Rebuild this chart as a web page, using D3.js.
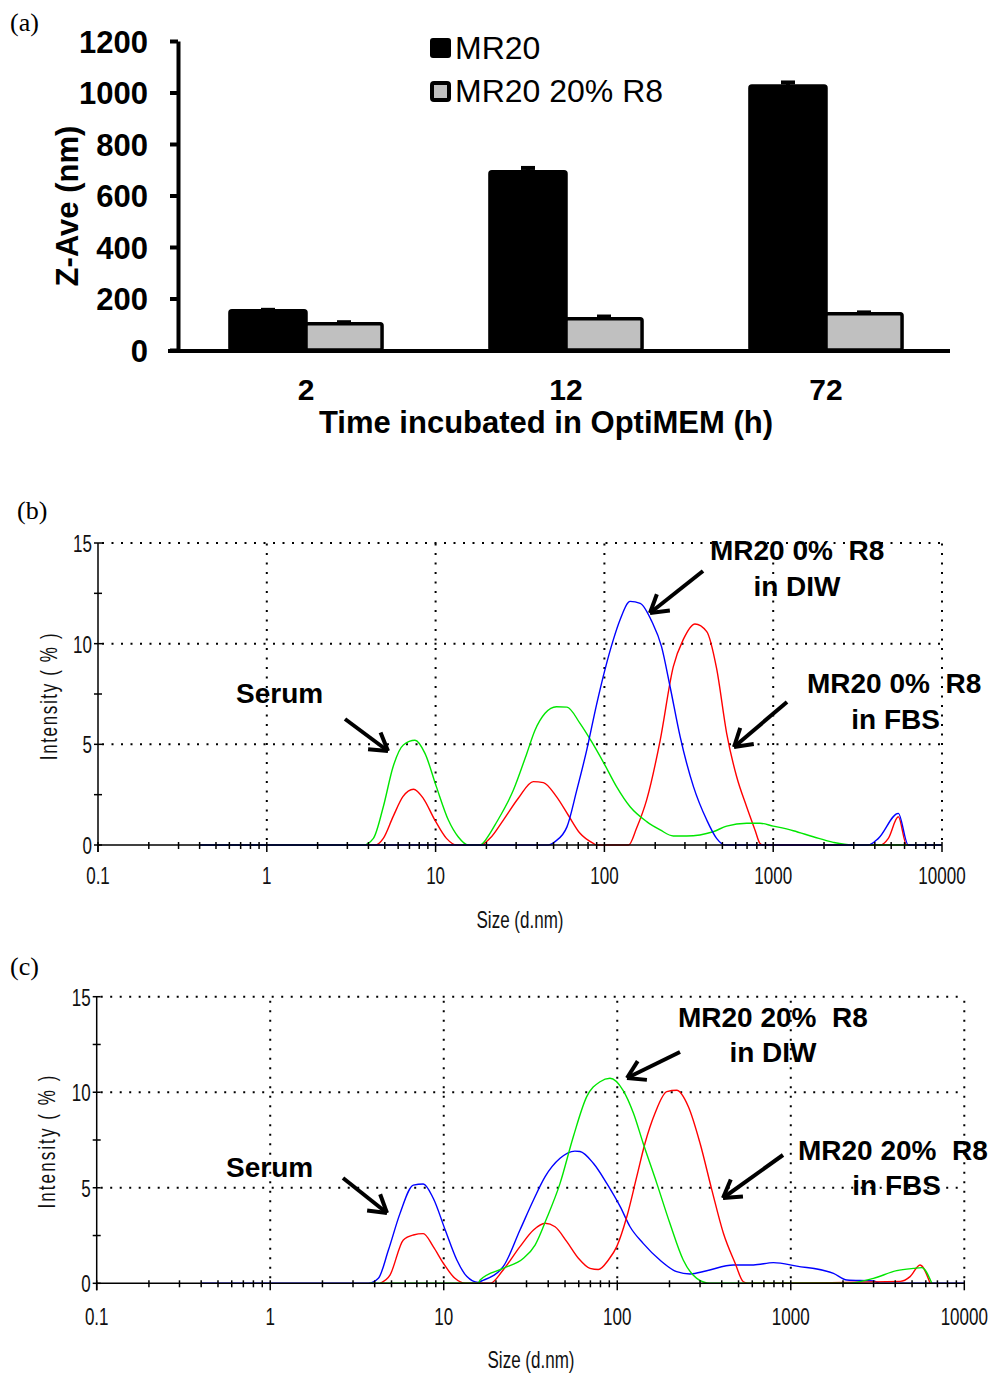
<!DOCTYPE html>
<meta charset="utf-8">
<head>
  <meta charset="UTF-8">
  <title>Z-Ave and size distributions</title>
  <style>
    body { margin: 0; background: #fff; }
    .bold { font-family: "Liberation Sans", Arial, sans-serif; font-weight: bold; }
    .narrow { font-family: "Liberation Sans", Arial, sans-serif; fill: #111; }
    .serif { font-family: "Liberation Serif", "Times New Roman", serif; }
  </style>
</head>
<body>
<script src="https://d3js.org/d3.v7.min.js"></script>
<div id="chart"></div>
<script>

// ---- panel (a) data
var hours = ["2", "12", "72"];
var seriesNames = ["MR20", "MR20 20% R8"];
var zaveMR20 = [152, 692, 1025];
var errMR20 = [4, 15, 14];
var zaveR8 = [102, 121, 141];
var errR8 = [6, 9, 5];
var zaveTicks = [0, 200, 400, 600, 800, 1000, 1200];

// ---- panels (b) and (c): [size d.nm, intensity %]
var sizeTicks = [0.1, 1, 10, 100, 1000, 10000];
var intensityTicks = [0, 5, 10, 15];

var bBlue = [[0.4,0],[46.5,0],[51,0.17],[60,0.9],[68.5,2.7],[78.5,4.7],[90,7.0],[100.7,8.7],[113,10.2],[124,11.2],
  [142,12.1],[163,12.0],[191,11.1],[218,9.85],[245,7.86],[281,5.38],[337,2.9],[404,1.24],[462,0.33],[518,0],
  [3660,0],[4200,0.33],[5510,1.57],[6310,0],[10000,0]];
var bRed = [[0.4,0],[4.38,0],[4.9,0.33],[5.6,1.41],[6.4,2.4],[7.4,2.77],[8.45,2.32],[9.9,1.24],[11.6,0.33],[13.3,0],
  [18.5,0],[21,0.33],[25.2,1.24],[30.9,2.32],[37.9,3.15],[43.5,3.1],[52,2.4],[61,1.49],[71.7,0.58],[86,0.08],[90,0],
  [139,0],[155,0.83],[178,2.24],[214,5.2],[256,8.86],[293,10.2],[344,10.98],[404,10.6],[462,8.77],[530,5.55],
  [607,3.4],[696,1.9],[780,0.75],[835,0.08],[870,0],[4300,0],[4810,0.33],[5510,1.4],[6170,0],[10000,0]];
var bGreen = [[0.4,0],[3.73,0],[4.28,0.33],[4.9,1.9],[5.6,3.89],[6.44,4.97],[7.55,5.2],[8.65,4.55],[10.1,2.9],
  [11.9,1.24],[13.6,0.41],[15.6,0],[18.3,0],[21,0.58],[22.5,1.0],[28.9,2.73],[34.7,4.55],[38.8,5.7],[44.5,6.54],
  [52,6.87],[60,6.85],[71.7,6.04],[84,5.13],[100.7,3.97],[118,2.9],[142,1.9],[178,1.16],[214,0.75],[256,0.45],
  [307,0.45],[441,0.66],[530,0.94],[696,1.08],[835,1.08],[1000,0.94],[1315,0.71],[1727,0.41],[2270,0.13],
  [2920,0],[10000,0]];

var cBlue = [[0.4,0],[3.68,0],[4.2,0.26],[4.8,1.74],[5.6,3.66],[6.68,5.14],[7.62,5.2],[8.7,4.45],[10.2,2.79],
  [11.9,1.22],[13.6,0.35],[15.8,0.05],[16.5,0.12],[22,0.87],[27.5,2.79],[32.9,4.36],[38.4,5.58],[46.8,6.54],
  [57,6.92],[61,6.9],[72.8,6.28],[87,5.23],[104,4.01],[118.5,2.96],[141,2.09],[176,1.22],[220,0.61],[263,0.49],
  [328,0.66],[467,0.96],[610,0.96],[794,1.08],[1083,0.9],[1762,0.52],[2104,0.17],[2995,0.12],[3270,0],[10000,0]];
var cRed = [[4.3,0],[4.9,0.43],[5.85,2.27],[6.68,2.53],[7.62,2.6],[8.7,1.92],[9.95,1.05],[11.6,0.26],[13.3,0],
  [18.5,0],[22,0.7],[27.5,1.92],[32.9,2.79],[38.4,3.14],[43.8,2.96],[51.2,2.18],[59.7,1.31],[69.7,0.78],
  [77.8,0.72],[88.9,1.22],[99.3,1.92],[113.5,3.48],[129.5,5.58],[144.5,7.33],[165,8.9],[193,10.03],[220,10.1],
  [257,9.24],[300,7.33],[351,4.88],[409,2.62],[478,1.05],[533,0.08],[570,0],[4270,0.1],[4870,0.35],
  [5560,0.96],[6350,0]];
var cGreen = [[3.75,0],[15.8,0],[16.2,0.17],[22,0.78],[28.8,1.31],[33.6,2.0],[39.2,3.4],[46.8,5.23],[55.8,7.67],
  [66.7,9.77],[79.6,10.55],[90.8,10.73],[108,10.1],[124,8.9],[141,7.33],[169,5.23],[201,3.14],[240,1.22],
  [287,0.26],[343,0],[2104,0],[2995,0.26],[4080,0.66],[5090,0.78],[5690,0.82],[6500,0]];

var NARROW = 0.74;

var svg = d3.select("#chart").append("svg")
    .attr("width", 992)
    .attr("height", 1378);

function arrow(g, x1, y1, x2, y2) {
  var a = Math.atan2(y2 - y1, x2 - x1), L = 20;
  g.append("line").attr("x1", x1).attr("y1", y1).attr("x2", x2).attr("y2", y2);
  [-0.55, 0.55].forEach(function(o) {
    g.append("line").attr("x1", x2).attr("y1", y2)
      .attr("x2", x2 - L * Math.cos(a + o)).attr("y2", y2 - L * Math.sin(a + o));
  });
}

// ================= panel (a)
var gA = svg.append("g");

gA.append("text").attr("class", "serif").attr("x", 10).attr("y", 31)
  .style("font-size", "26px").text("(a)");

var x0 = d3.scaleBand().domain(hours).range([176, 956]).paddingInner(0.415).paddingOuter(0.2075);
var x1 = d3.scaleBand().domain(seriesNames).range([0, x0.bandwidth()]);
var yA = d3.scaleLinear().domain([0, 1200]).range([350, 41]);

var barData = [];
hours.forEach(function(h, i) {
  barData.push({h: h, s: seriesNames[0], v: zaveMR20[i], e: errMR20[i], fill: "#000"});
  barData.push({h: h, s: seriesNames[1], v: zaveR8[i], e: errR8[i], fill: "#c0c0c0"});
});

// error bars (behind bars)
var eb = gA.append("g").attr("stroke", "#000").attr("stroke-width", 4);
barData.forEach(function(d) {
  var cx = x0(d.h) + x1(d.s) + x1.bandwidth() / 2;
  eb.append("line").attr("x1", cx).attr("x2", cx).attr("y1", yA(d.v)).attr("y2", yA(d.v + d.e));
  eb.append("line").attr("x1", cx - 7).attr("x2", cx + 7).attr("y1", yA(d.v + d.e)).attr("y2", yA(d.v + d.e));
});

gA.append("g").selectAll("rect").data(barData).join("rect")
  .attr("x", function(d) { return x0(d.h) + x1(d.s); })
  .attr("y", function(d) { return yA(d.v); })
  .attr("width", x1.bandwidth())
  .attr("height", function(d) { return yA(0) - yA(d.v); })
  .attr("rx", 2)
  .attr("fill", function(d) { return d.fill; })
  .attr("stroke", "#000")
  .attr("stroke-width", 3.5);

var yAxisA = gA.append("g").attr("transform", "translate(178,0)")
  .call(d3.axisLeft(yA).tickValues(zaveTicks).tickFormat(d3.format("d"))
    .tickSize(8).tickSizeOuter(0).tickPadding(22));
yAxisA.select(".domain").attr("stroke-width", 4);
yAxisA.selectAll(".tick line").attr("stroke-width", 4);
yAxisA.selectAll(".tick text").attr("class", "bold").style("font-size", "31px").attr("dy", "0.36em").attr("fill", "#000");

// x axis line
gA.append("line").attr("x1", 168).attr("x2", 950).attr("y1", yA(0) + 1).attr("y2", yA(0) + 1)
  .attr("stroke", "#000").attr("stroke-width", 4);
gA.append("g").selectAll("text").data(hours).join("text")
  .attr("class", "bold").attr("text-anchor", "middle")
  .attr("x", function(d) { return x0(d) + x0.bandwidth() / 2; })
  .attr("y", 400).style("font-size", "30px").text(function(d) { return d; });

gA.append("text").attr("class", "bold").attr("text-anchor", "middle")
  .attr("x", 546).attr("y", 433).style("font-size", "31px")
  .text("Time incubated in OptiMEM (h)");
gA.append("text").attr("class", "bold").attr("text-anchor", "middle")
  .attr("transform", "translate(78,206) rotate(-90)").style("font-size", "31px")
  .text("Z-Ave (nm)");

// legend
var leg = gA.append("g");
leg.append("rect").attr("x", 430).attr("y", 38).attr("width", 21).attr("height", 20).attr("rx", 3).attr("fill", "#000");
leg.append("rect").attr("x", 432).attr("y", 83).attr("width", 17).attr("height", 17).attr("rx", 2)
  .attr("fill", "#c0c0c0").attr("stroke", "#000").attr("stroke-width", 4);
leg.selectAll("text").data(seriesNames).join("text")
  .attr("x", 455).attr("y", function(d, i) { return 59 + i * 43; })
  .style("font-family", "Liberation Sans, Arial, sans-serif").style("font-size", "32px")
  .text(function(d) { return d; });

// ================= panels (b), (c)
function dlsPanel(opt) {
  var g = svg.append("g");
  var x = d3.scaleLog().domain([0.1, 10000]).range(opt.xr);
  var y = d3.scaleLinear().domain([0, 15]).range(opt.yr);

  g.append("text").attr("class", "serif").attr("x", opt.label[0]).attr("y", opt.label[1])
    .style("font-size", "26px").text(opt.name);

  // dotted grid
  var grid = g.append("g").attr("stroke", "#000").attr("stroke-width", 2).attr("stroke-dasharray", "2,7.5");
  grid.selectAll(".h").data(intensityTicks.slice(1)).join("line")
    .attr("x1", x(0.1) + 4).attr("x2", x(10000))
    .attr("y1", function(d) { return y(d); }).attr("y2", function(d) { return y(d); });
  grid.selectAll(".v").data(sizeTicks.slice(1)).join("line")
    .attr("x1", function(d) { return x(d); }).attr("x2", function(d) { return x(d); })
    .attr("y1", y(0) - 5).attr("y2", y(15));

  // curves
  var line = d3.line()
    .x(function(d) { return x(d[0]); })
    .y(function(d) { return y(d[1]); })
    .curve(d3.curveMonotoneX);
  opt.curves.forEach(function(c) {
    g.append("path").datum(c.data).attr("d", line)
      .attr("fill", "none").attr("stroke", c.color).attr("stroke-width", 1.4);
  });

  // axes
  var ax = g.append("g").attr("stroke", "#000").attr("stroke-width", 1.5);
  ax.append("line").attr("x1", x(0.1)).attr("x2", x(10000)).attr("y1", y(0)).attr("y2", y(0));
  ax.append("line").attr("x1", x(0.1)).attr("x2", x(0.1)).attr("y1", y(0) + 7).attr("y2", y(15));

  var minor = [];
  sizeTicks.slice(0, -1).forEach(function(t) {
    for (var k = 2; k < 10; k++) minor.push(t * k);
  });
  ax.selectAll(".mx").data(minor).join("line")
    .attr("x1", function(d) { return x(d); }).attr("x2", function(d) { return x(d); })
    .attr("y1", y(0) - 3).attr("y2", y(0) + 4);
  ax.selectAll(".Mx").data(sizeTicks).join("line")
    .attr("x1", function(d) { return x(d); }).attr("x2", function(d) { return x(d); })
    .attr("y1", y(0) - 3).attr("y2", y(0) + 7);
  ax.selectAll(".my").data([0, 2.5, 5, 7.5, 10, 12.5, 15]).join("line")
    .attr("x1", x(0.1) - 4).attr("x2", x(0.1) + 4)
    .attr("y1", function(d) { return y(d); }).attr("y2", function(d) { return y(d); });

  // tick labels, narrow face made by squeezing Liberation Sans
  g.append("g").selectAll("text").data(intensityTicks).join("text")
    .attr("class", "narrow").attr("text-anchor", "end")
    .attr("transform", function(d) { return "translate(" + (x(0.1) - 6) + "," + (y(d) + 9) + ") scale(" + NARROW + ",1)"; })
    .style("font-size", "23px").text(function(d) { return d; });
  g.append("g").selectAll("text").data(sizeTicks).join("text")
    .attr("class", "narrow").attr("text-anchor", "middle")
    .attr("transform", function(d) { return "translate(" + x(d) + "," + (y(0) + opt.xLabelDy) + ") scale(" + NARROW + ",1)"; })
    .style("font-size", "23px").text(function(d) { return String(d); });

  g.append("text").attr("class", "narrow").attr("text-anchor", "middle")
    .attr("transform", "translate(" + opt.xTitle[0] + "," + opt.xTitle[1] + ") scale(" + NARROW + ",1)")
    .style("font-size", "23px")
    .text("Size (d.nm)");
  g.append("text").attr("class", "narrow").attr("text-anchor", "middle")
    .attr("transform", "translate(" + opt.yTitle[0] + "," + opt.yTitle[1] + ") rotate(-90) scale(" + NARROW + ",1)")
    .style("font-size", "23px").style("letter-spacing", opt.yTitleSpacing + "px")
    .text("Intensity ( % )");

  // annotations
  var ann = g.append("g").attr("class", "bold").style("font-size", "28px");
  opt.notes.forEach(function(n) {
    ann.append("text").attr("x", n[0]).attr("y", n[1]).attr("text-anchor", n[3] || "start")
      .text(n[2].replace(/ /g, "\u00a0"));
  });
  var ar = g.append("g").attr("stroke", "#000").attr("stroke-width", 4).attr("stroke-linecap", "butt");
  opt.arrows.forEach(function(a) { arrow(ar, a[0], a[1], a[2], a[3]); });
}

dlsPanel({
  name: "(b)", label: [17, 519],
  xr: [98, 942], yr: [845, 543], xLabelDy: 39,
  xTitle: [520, 928], yTitle: [57, 696], yTitleSpacing: 2.2,
  curves: [{data: bRed, color: "#ff0000"}, {data: bGreen, color: "#00e600"}, {data: bBlue, color: "#0000ff"}],
  notes: [[236, 703, "Serum"], [710, 560, "MR20 0%  R8"], [797, 596, "in DIW", "middle"],
          [807, 693, "MR20 0%  R8"], [940, 729, "in FBS", "end"]],
  arrows: [[345, 719, 388, 751], [703, 571, 650, 613], [787, 702, 734, 747]]
});

dlsPanel({
  name: "(c)", label: [10, 975],
  xr: [96.7, 964.3], yr: [1283.3, 996.7], xLabelDy: 42,
  xTitle: [531, 1368], yTitle: [55, 1141], yTitleSpacing: 2.8,
  curves: [{data: cBlue, color: "#0000ff"}, {data: cRed, color: "#ff0000"}, {data: cGreen, color: "#00e600"}],
  notes: [[226, 1177, "Serum"], [678, 1027, "MR20 20%  R8"], [773, 1062, "in DIW", "middle"],
          [798, 1160, "MR20 20%  R8"], [941, 1195, "in FBS", "end"]],
  arrows: [[343, 1178, 387, 1213], [680, 1052, 627, 1078], [783, 1155, 723, 1198]]
});

</script>
</body>
